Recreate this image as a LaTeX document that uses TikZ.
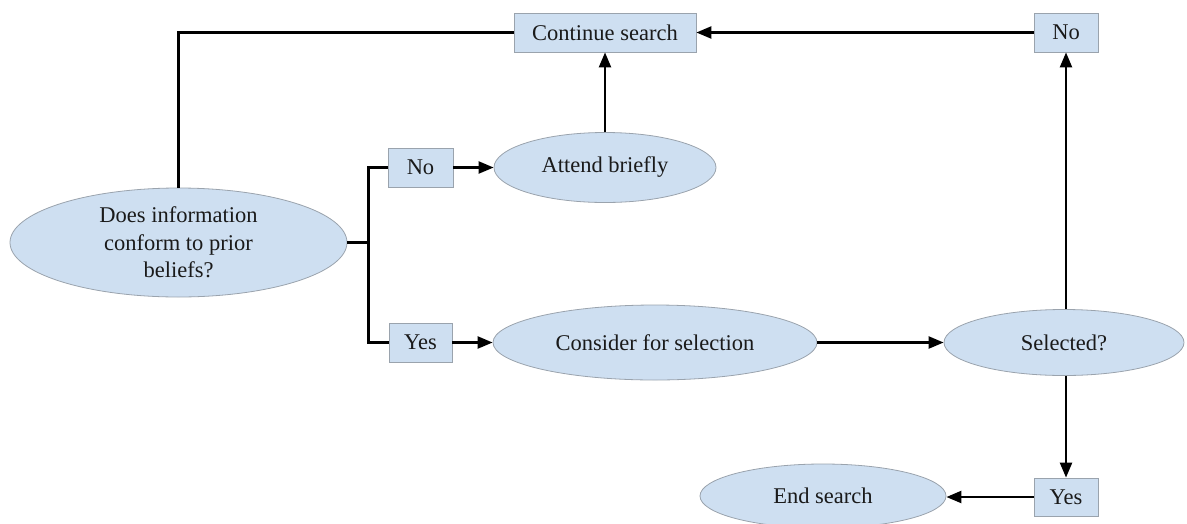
\documentclass[tikz,border=0pt]{standalone}
\usepackage{fontspec}
\setmainfont{Liberation Serif}
\newfontfamily\tnrfont{Liberation Serif}
\usetikzlibrary{shapes.geometric,arrows.meta}
\definecolor{fillblue}{HTML}{CEDFF1}
\definecolor{edgegray}{HTML}{9AA3AD}
\definecolor{inkdark}{HTML}{1A1A1A}
\begin{document}
\begin{tikzpicture}[x=1pt,y=-1pt,
  every node/.style={font=\tnrfont\fontsize{22.5}{27.5}\selectfont, text=inkdark},
  rbox/.style={draw=edgegray, line width=0.8pt, fill=fillblue, rectangle, inner sep=0pt, minimum height=39pt},
  oval/.style={draw=edgegray, line width=0.8pt, fill=fillblue, ellipse, inner sep=0pt},
  conn/.style={line width=2.3pt, draw=black},
  arr/.style={conn, -{Triangle[length=15pt,width=12pt]}}]
\useasboundingbox (0,0) rectangle (1187,523);

\node[rbox, minimum width=182pt] (cont) at (605,32.5) {Continue search};
\node[rbox, minimum width=64pt] (noT) at (1066,32.5) {No};
\node[oval, minimum width=337pt, minimum height=109pt,
      label={[align=center]center:Does information\\conform to prior\\beliefs?}] (conf) at (178.5,242.5) {};
\node[rbox, minimum width=65pt] (noM) at (420.5,167.5) {No};
\node[oval, minimum width=222pt, minimum height=70pt] (att) at (605,167.5) {Attend briefly};
\node[rbox, minimum width=63pt] (yesM) at (420.5,342.5) {Yes};
\node[oval, minimum width=324pt, minimum height=75pt] (cons) at (655,342.5) {Consider for selection};
\node[oval, minimum width=240pt, minimum height=66pt] (sel) at (1064,342.5) {Selected?};
\node[rbox, minimum width=64pt, minimum height=38pt] (yesB) at (1066,497) {Yes};
\node[oval, minimum width=246pt, minimum height=64pt] (endS) at (823,496) {End search};

\draw[conn] (conf.north) |- (cont.west);
\draw[conn] (conf.east) -- ++(21,0) coordinate (jn);
\draw[conn] (noM.west) -| (jn) |- (yesM.west);
\draw[arr] (noM.east) -- (noM.east -| att.west);
\draw[arr] (yesM.east) -- (yesM.east -| cons.west);
\draw[arr] (att.north) -- (cont.south);
\draw[arr] (noT.west) -- (cont.east);
\draw[arr] (cons.east) -- (sel.west);
\draw[arr] (sel.north -| noT) -- (noT.south);
\draw[arr] (sel.south -| yesB) -- (yesB.north);
\draw[arr] (yesB.west) -- (yesB.west -| endS.east);
\end{tikzpicture}
\end{document}
